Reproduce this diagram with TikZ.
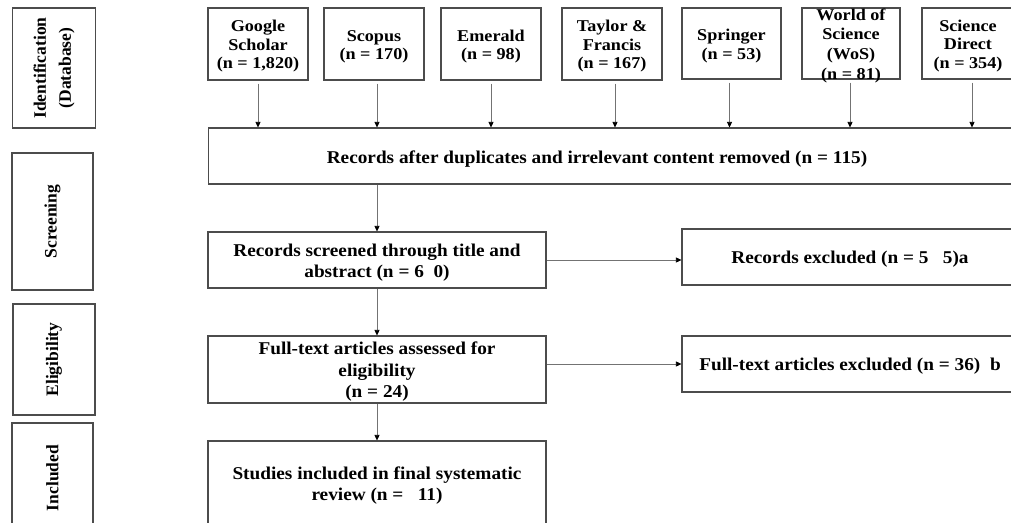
\documentclass[tikz,border=0pt]{standalone}
\usepackage{fontspec}
\setmainfont{Liberation Serif}
\newfontfamily\mainwide[FakeStretch=1.07]{Liberation Serif}
\newfontfamily\dbwide[FakeStretch=1.1]{Liberation Serif}
\newcommand{\tgap}{\rule{0pt}{17.5pt}}
\newcommand{\dgap}{\rule{0pt}{16.5pt}}
\usetikzlibrary{arrows.meta}
\begin{document}
\begin{tikzpicture}[x=1pt,y=-1pt,
  frame/.style={draw=black!70, line width=1.1pt, inner sep=0pt, align=center},
  box/.style={frame, font=\mainwide\bfseries\fontsize{18}{21.5}\selectfont},
  dbbox/.style={frame, minimum width=100pt, minimum height=72pt, font=\dbwide\bfseries\fontsize{16.5}{18.5}\selectfont},
  phase/.style={frame, rotate=90, font=\rmfamily\bfseries\fontsize{17.5}{20}\selectfont},
  arr/.style={draw=black!55, line width=0.7pt, -{Triangle[length=5.5pt,width=5pt,color=black]}}
]
\useasboundingbox (0,0) rectangle (1011,522);
\clip (0,0) rectangle (1011,522);
% phase boxes
\node[phase, minimum width=120pt, minimum height=83pt] (pid) at (54,68) {Identification\\[5pt](Database)};
\node[phase, minimum width=137pt, minimum height=81pt] (psc) at (52.5,221.5) {Screening};
\node[phase, minimum width=111pt, minimum height=82pt] (pel) at (54,359.5) {Eligibility};
\node[phase, minimum width=110pt, minimum height=81pt] (pin) at (52.5,478) {Included};
% database boxes
\node[dbbox] (g) at (258,44) {\dgap Google\\Scholar\\(n = 1,820)};
\node[dbbox] (s) at (374,44) {\dgap Scopus\\(n = 170)};
\node[dbbox] (e) at (491,44) {\dgap Emerald\\(n = 98)};
\node[dbbox] (t) at (612,44) {\dgap Taylor \&\\Francis\\(n = 167)};
\node[dbbox, minimum width=99pt, minimum height=71pt] (sp) at (731.5,43.5) {\dgap Springer\\(n = 53)};
\node[dbbox, minimum width=98pt, minimum height=71pt] (w) at (851,43.5) {};
\node[dbbox, draw=none, minimum width=0pt, minimum height=0pt, font=\dbwide\bfseries\fontsize{16.5}{19.7}\selectfont] (wt) at (851,45.5) {World of\\Science\\(WoS)\\(n = 81)};
\node[dbbox, minimum width=92pt, minimum height=71pt] (sd) at (968,43.5) {\dgap Science\\Direct\\(n = 354)};
% records box
\node[frame, minimum width=830pt, minimum height=56pt, anchor=west] (rec) at (208,156) {};
\node[box, draw=none] (rect) at (597,157) {\tgap Records after duplicates and irrelevant content removed (n = 115)};
% flow
\node[box, minimum width=338pt, minimum height=56pt] (scr) at (377,260) {\tgap Records screened through title and\\abstract (n = 6\ \ 0)};
\node[box, minimum width=336pt, minimum height=56pt] (ex1) at (850,257) {\tgap Records excluded (n = 5\ \ \ 5)a};
\node[box, minimum width=338pt, minimum height=67pt] (el) at (377,369.5) {\tgap Full-text articles assessed for\\eligibility\\(n = 24)};
\node[box, minimum width=336pt, minimum height=56pt] (ex2) at (850,364) {\tgap Full-text articles excluded (n = 36)\ \ b};
\node[box, minimum width=338pt, minimum height=84pt] (inc) at (377,483) {\tgap Studies included in final systematic\\review (n =\ \ \ 11)};
% arrows
\foreach \n/\dx in {g/0, s/3, e/0, t/3, sp/-2, w/-1, sd/4}
  \draw[arr, shorten <=3pt] ([xshift=\dx pt]\n.south) -- ([xshift=\dx pt]\n.south |- rec.north);
\draw[arr] (scr.north |- rec.south) -- (scr.north);
\draw[arr] (scr.east) -- (scr.east -| ex1.west);
\draw[arr] (scr.south) -- (el.north);
\draw[arr] (ex2.west -| el.east) -- (ex2.west);
\draw[arr] (el.south) -- (inc.north);
\end{tikzpicture}
\end{document}
